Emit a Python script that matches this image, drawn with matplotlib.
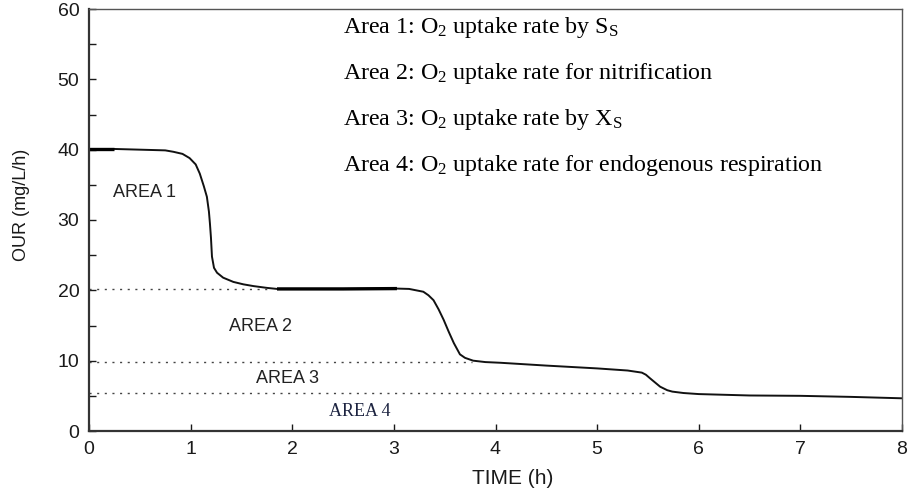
import matplotlib
matplotlib.use("Agg")
import matplotlib.pyplot as plt
from matplotlib.ticker import MultipleLocator

# OUR curve
time_h = [0.0, 0.25, 0.5, 0.75, 0.83, 0.92, 0.99, 1.05, 1.09, 1.13, 1.16, 1.18, 1.19, 1.2,
          1.21, 1.23, 1.26, 1.32, 1.42, 1.52, 1.62, 1.75, 1.85, 2.0, 2.5, 3.03, 3.15,
          3.29, 3.34, 3.39, 3.44, 3.49, 3.54, 3.59, 3.65, 3.7, 3.78, 3.9, 4.05, 4.5,
          5.0, 5.3, 5.44, 5.48, 5.52, 5.57, 5.62, 5.69, 5.74, 5.85, 6.0, 6.5, 7.0,
          7.5, 8.0]
our = [40.1, 40.1, 40.0, 39.9, 39.7, 39.4, 38.8, 37.9, 36.6, 34.8, 33.3, 31.2, 29.5, 27.5,
       24.8, 23.2, 22.5, 21.8, 21.2, 20.85, 20.6, 20.35, 20.2, 20.2, 20.2, 20.25, 20.2,
       19.8, 19.3, 18.6, 17.3, 15.8, 14.1, 12.5, 10.9, 10.4, 10.0, 9.8, 9.7, 9.3,
       8.9, 8.6, 8.3, 8.0, 7.5, 6.9, 6.3, 5.8, 5.6, 5.4, 5.25, 5.05, 5.0,
       4.85, 4.65]

# dotted boundaries: level, x end
bound_level = [20.2, 9.8, 5.4]
bound_end = [1.75, 3.77, 5.7]

area_names = ["AREA 1", "AREA 2", "AREA 3", "AREA 4"]
area_x = [0.55, 1.69, 1.95, 2.66]
area_y = [33.9, 14.8, 7.4, 2.8]

legend_lines = [
    r"Area 1: O$_2$ uptake rate by S$_\mathrm{S}$",
    r"Area 2: O$_2$ uptake rate for nitrification",
    r"Area 3: O$_2$ uptake rate by X$_\mathrm{S}$",
    r"Area 4: O$_2$ uptake rate for endogenous respiration",
]

plt.rcParams['mathtext.fontset'] = 'custom'
plt.rcParams['mathtext.rm'] = 'Liberation Serif'
plt.rcParams['mathtext.it'] = 'Liberation Serif:italic'

fig = plt.figure(figsize=(9.08, 4.92), dpi=100)
ax = fig.add_axes([89 / 908, 1 - 431 / 492, (902 - 89) / 908, (431 - 9) / 492])

ax.plot(time_h, our, color='#111111', lw=1.4)
# slightly heavier stretches on the two plateaus
thick1 = [i for i, t in enumerate(time_h) if t <= 0.25]
thick2 = [i for i, t in enumerate(time_h) if 1.85 <= t <= 3.03]
for idx in (thick1, thick2):
    ax.plot([time_h[i] for i in idx], [our[i] for i in idx], color='black', lw=2.4,
            solid_capstyle='butt')

for lvl, xe in zip(bound_level, bound_end):
    ax.plot([0, xe], [lvl, lvl], color='#444444', lw=1.0, ls=(0, (1.5, 4)))

for i, (nm, x, y) in enumerate(zip(area_names, area_x, area_y)):
    if i == 3:
        ax.text(x, y, nm, ha='center', va='center', fontsize=13,
                family='Liberation Serif', color='#1c2340')
    else:
        ax.text(x, y, nm, ha='center', va='center', fontsize=13,
                family='Liberation Sans', color='#222222')

for i, line in enumerate(legend_lines):
    ax.text(343 / 908, 1 - (28 + i * 46) / 492, line, transform=fig.transFigure,
            fontsize=17.3, family='Liberation Serif', va='center', ha='left')

ax.set_xlim(0, 8)
ax.set_ylim(0, 60)
ax.xaxis.set_major_locator(MultipleLocator(1))
ax.yaxis.set_major_locator(MultipleLocator(10))
ax.yaxis.set_minor_locator(MultipleLocator(5))
ax.tick_params(axis='both', which='both', direction='in', length=5, width=1,
               labelsize=14, colors='#1a1a1a', pad=7)
for lab in ax.get_xticklabels() + ax.get_yticklabels():
    lab.set_family('Liberation Sans')

for s in ['left', 'bottom']:
    ax.spines[s].set_linewidth(1.6)
    ax.spines[s].set_color('#333333')
for s in ['top', 'right']:
    ax.spines[s].set_linewidth(1.0)
    ax.spines[s].set_color('#555555')

fig.text(22 / 908, 1 - 205 / 492, "OUR (mg/L/h)", rotation=90, ha='center', va='center',
         fontsize=13, family='Liberation Sans', color='#1a1a1a')
fig.text(513 / 908, 1 - 478 / 492, "TIME (h)", ha='center', va='center',
         fontsize=15, family='Liberation Sans', color='#1a1a1a')

fig.savefig("out.png", dpi=100)
